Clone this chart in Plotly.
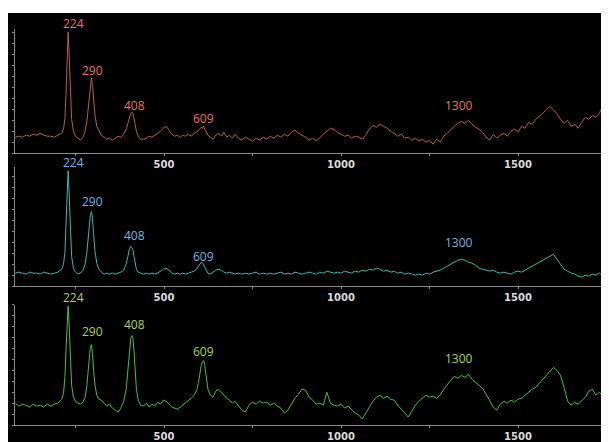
import plotly.graph_objects as go

# Raman shift grid (cm^-1)
wavenumber = ([80, 90, 100, 110, 120, 130, 140, 150, 160, 170, 180, 190, 200]
              + [211, 216, 220, 223, 226, 229, 232, 235, 239, 244, 250]
              + [257, 264, 271, 277, 282, 286, 289, 292, 295, 298, 301, 305, 310, 316, 323,
                 331, 338, 346, 354, 362, 370, 378, 386, 393, 398, 402, 406, 409, 412, 415,
                 418, 422, 427, 434, 442, 450, 458, 466, 474, 482, 490, 498, 506, 514, 522,
                 530, 538, 546, 553, 561, 569, 577, 585, 592, 597, 601, 605, 609, 612, 615,
                 619, 624, 631, 638, 646, 654, 662, 669, 677, 685, 693, 700]
              + list(range(710, 1751, 10)) + [1757])

intensity_red = ([16, 17, 16, 18, 17, 19, 18, 20, 18, 17, 17, 16, 18]
                 + [20, 24, 35, 58, 95, 122, 98, 60, 34, 22, 17]
                 + [15, 13, 16, 22, 32, 46, 60, 72, 76, 68, 52, 38, 27, 22, 18,
                    16, 14, 15, 13, 15, 17, 16, 19, 24, 30, 36, 40, 41, 40, 35,
                    29, 22, 17, 14, 14, 15, 17, 16, 18, 20, 22, 25, 27, 23, 19,
                    17, 18, 16, 18, 17, 19, 17, 20, 21, 23, 25, 26, 25, 27, 24,
                    21, 18, 16, 14, 18, 20, 17, 21, 16, 18, 15, 19]
                 + [15, 13, 16, 14, 12, 15, 13, 16, 14, 17,
                    15, 18, 16, 19, 17, 21, 23, 20, 18, 16,
                    13, 15, 12, 16, 19, 22, 25, 24, 21, 19,
                    17, 18, 15, 17, 16, 14, 18, 24, 28, 26,
                    29, 27, 25, 22, 20, 17, 19, 15, 16, 13,
                    15, 12, 14, 11, 13, 9, 14, 11, 17, 20,
                    24, 27, 30, 32, 30, 33, 29, 26, 24, 21,
                    16, 13, 19, 15, 18, 20, 17, 22, 24, 21,
                    27, 25, 31, 29, 34, 37, 40, 44, 47, 43,
                    40, 34, 30, 33, 27, 29, 25, 31, 36, 34,
                    38, 36, 40, 48, 39, 34])

intensity_cyan = ([13, 14, 13, 12, 14, 13, 13, 12, 14, 13, 12, 13, 14]
                  + [17, 22, 34, 58, 92, 116, 92, 55, 30, 18, 14]
                  + [12, 13, 16, 22, 34, 50, 63, 72, 75, 68, 52, 35, 23, 17, 14,
                     12, 13, 12, 13, 12, 13, 14, 16, 22, 30, 37, 40, 39, 37, 30,
                     23, 17, 14, 13, 12, 13, 12, 13, 12, 13, 15, 17, 18, 16, 13,
                     12, 13, 12, 13, 12, 13, 14, 15, 17, 20, 22, 24, 23, 21, 18,
                     15, 13, 12, 14, 16, 17, 16, 14, 13, 14, 13, 12]
                  + [13, 12, 13, 12, 13, 14, 12, 13, 12, 13,
                     12, 13, 14, 12, 13, 12, 14, 13, 12, 13,
                     14, 13, 12, 14, 13, 15, 14, 13, 14, 13,
                     15, 14, 13, 15, 14, 16, 15, 17, 16, 18,
                     17, 15, 16, 14, 15, 13, 14, 12, 13, 12,
                     11, 12, 11, 13, 12, 14, 15, 16, 18, 20,
                     22, 24, 26, 27, 26, 24, 23, 21, 18, 17,
                     16, 15, 16, 14, 13, 14, 13, 12, 14, 15,
                     14, 16, 18, 20, 22, 24, 26, 28, 30, 32,
                     27, 22, 17, 15, 13, 12, 10, 9, 11, 10,
                     12, 11, 13, 10, 8, 6])

intensity_green = ([22, 19, 21, 20, 18, 21, 19, 20, 18, 21, 19, 21, 22]
                   + [26, 32, 48, 75, 105, 120, 100, 65, 40, 28, 24]
                   + [22, 21, 23, 28, 40, 56, 70, 79, 81, 72, 55, 40, 30, 26, 25,
                      22, 19, 21, 17, 15, 13, 17, 24, 36, 55, 75, 87, 90, 88, 75,
                      55, 36, 25, 20, 19, 22, 18, 21, 19, 23, 21, 25, 24, 21, 18,
                      17, 16, 18, 20, 22, 24, 27, 30, 35, 42, 52, 60, 64, 65, 60,
                      48, 36, 30, 28, 34, 36, 33, 30, 27, 25, 22, 24]
                   + [19, 15, 13, 20, 23, 21, 24, 22, 23, 20,
                      22, 19, 17, 12, 15, 21, 27, 31, 36, 35,
                      28, 25, 21, 22, 20, 33, 22, 20, 19, 21,
                      17, 19, 15, 12, 10, 6, 12, 18, 24, 28,
                      30, 27, 29, 26, 25, 20, 16, 12, 8, 14,
                      20, 24, 27, 30, 28, 29, 27, 30, 36, 41,
                      45, 49, 47, 50, 48, 51, 46, 43, 40, 37,
                      31, 24, 18, 15, 21, 24, 22, 25, 23, 26,
                      27, 30, 33, 36, 38, 42, 46, 50, 54, 58,
                      55, 50, 38, 24, 20, 23, 21, 25, 28, 34,
                      36, 30, 33, 29, 31, 24])

peak_labels = ["224", "290", "408", "609", "1300"]
label_x = [244, 298, 416, 612, 1333]
label_y_red = [1.015, 0.895, 0.807, 0.774, 0.807]
label_y_cyan = [0.664, 0.564, 0.479, 0.426, 0.461]
label_y_green = [0.323, 0.236, 0.253, 0.185, 0.168]

tick_vals = [250, 500, 750, 1000, 1250, 1500, 1750]
tick_text = ["", "500", "", "1000", "", "1500", ""]

panels = [
    dict(y=intensity_red, line="#b85a58", label="#ee716b", ly=label_y_red,
         domain=[0.6867, 1.0], yr=[0, 125]),
    dict(y=intensity_cyan, line="#3cb6ae", label="#7ab4e6", ly=label_y_cyan,
         domain=[0.3509, 0.6516], yr=[0, 120]),
    dict(y=intensity_green, line="#4fbb4a", label="#a9d655", ly=label_y_green,
         domain=[0.0, 0.3033], yr=[0, 121]),
]

fig = go.Figure()
annotations = []
layout = dict(
    width=601, height=434,
    margin=dict(l=7, r=0, t=21, b=14),
    paper_bgcolor="white", plot_bgcolor="black",
    showlegend=False,
)
axis_color = "#8c8c8c"
for i, p in enumerate(panels):
    n = "" if i == 0 else str(i + 1)
    fig.add_trace(go.Scatter(x=wavenumber, y=p["y"], mode="lines",
                             line=dict(color=p["line"], width=1),
                             xaxis="x" + n, yaxis="y" + n, hoverinfo="skip"))
    layout["xaxis" + n] = dict(
        domain=[0, 1], anchor="y" + n, range=[79, 1757],
        showgrid=False, zeroline=False, showline=True, linecolor=axis_color, linewidth=1,
        ticks="outside", ticklen=2, tickcolor=axis_color, tickwidth=1,
        tickvals=tick_vals, ticktext=tick_text,
        tickfont=dict(family="DejaVu Sans", size=10, color="#dcdcdc", weight="bold"),
    )
    layout["yaxis" + n] = dict(
        domain=p["domain"], anchor="x" + n, range=p["yr"],
        showgrid=False, zeroline=False, showline=True, linecolor=axis_color, linewidth=1,
        ticks="outside", ticklen=2, tickcolor=axis_color, dtick=11,
        showticklabels=False,
    )
    for t, lx, ly in zip(peak_labels, label_x, p["ly"]):
        annotations.append(dict(text=t, x=lx, y=ly, xref="x" + n, yref="paper",
                                showarrow=False, xanchor="center", yanchor="middle",
                                font=dict(family="Open Sans", size=12, color=p["label"])))

layout["annotations"] = annotations
layout["shapes"] = [dict(type="rect", xref="paper", yref="paper",
                         x0=-0.0135, x1=1.02, y0=-0.06, y1=1.0401,
                         fillcolor="black", line=dict(width=0), layer="below")]
fig.update_layout(**layout)
fig.write_html("out.html")
